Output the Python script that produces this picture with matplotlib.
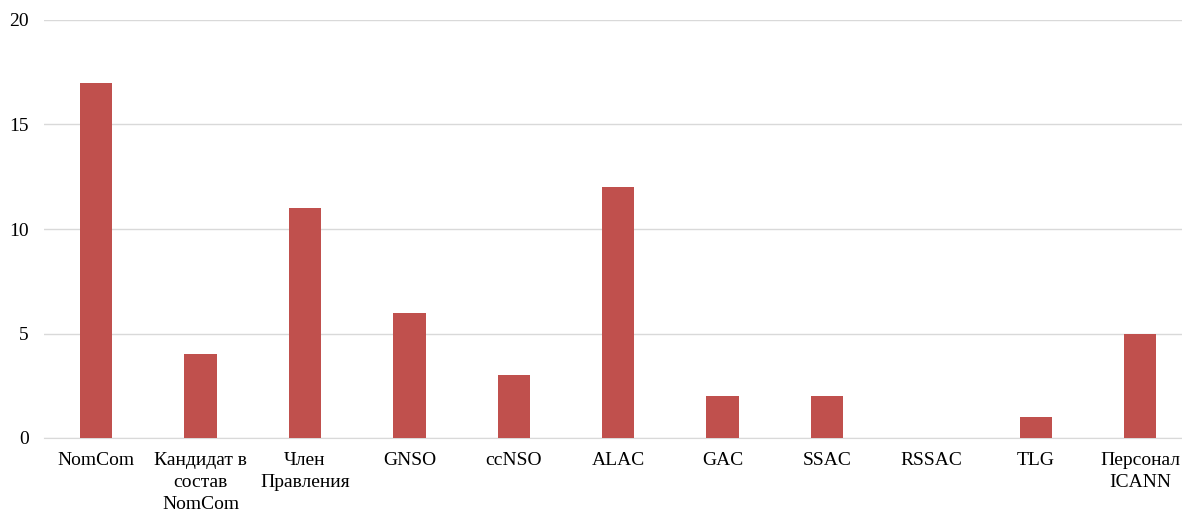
import numpy as np
import matplotlib.pyplot as plt

categories = ['NomCom', 'Кандидат в\nсостав\nNomCom', 'Член\nПравления', 'GNSO', 'ccNSO',
              'ALAC', 'GAC', 'SSAC', 'RSSAC', 'TLG', 'Персонал\nICANN']
values = [17, 4, 11, 6, 3, 12, 2, 2, 0, 1, 5]

plt.rcParams['font.family'] = ['Liberation Serif', 'DejaVu Serif']

fig = plt.figure(figsize=(11.82, 5.12), dpi=100)
ax = fig.add_axes([44 / 1182, 74 / 512, 1138 / 1182, 418 / 512])

x = np.arange(len(categories))
ax.bar(x, values, width=0.31, color='#C0504D', zorder=3)

ax.set_xlim(-0.5, 10.4)
ax.set_ylim(0, 20)
ax.set_yticks([0, 5, 10, 15, 20])
ax.set_xticks(x)
ax.set_xticklabels(categories, linespacing=1.4)
ax.grid(axis='y', color='#D9D9D9', linewidth=1, zorder=0)
ax.tick_params(length=0, labelsize=14)
ax.tick_params(axis='y', pad=11)
ax.tick_params(axis='x', pad=10)
for s in ['top', 'right', 'left']:
    ax.spines[s].set_visible(False)
ax.spines['bottom'].set_color('#D9D9D9')
ax.spines['bottom'].set_zorder(0)

fig.savefig('out.png', dpi=100)
